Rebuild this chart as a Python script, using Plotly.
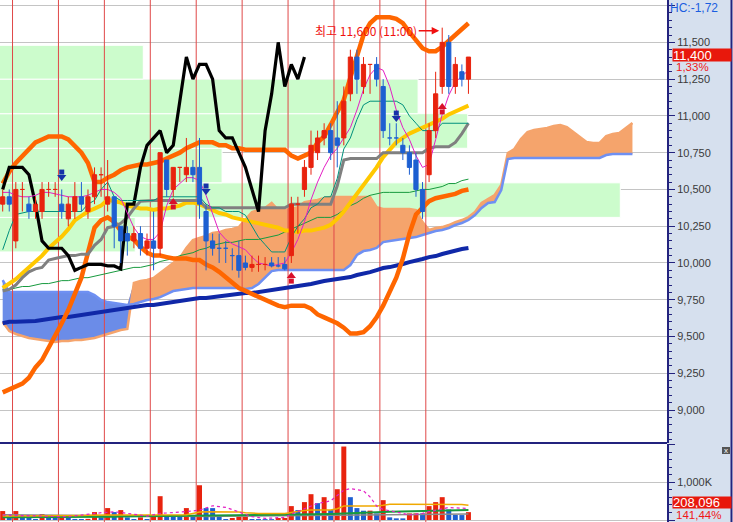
import numpy as np
import plotly.graph_objects as go

# ---------------- data ----------------
opens = [10400, 10450, 10150, 10500, 10400, 10350, 10350, 10500, 10500, 10400,
         10300, 10350, 10450, 10350, 10450, 10600, 10400, 10450, 10250, 10200,
         10150, 10200, 10100, 10150, 10100, 10700, 10500, 10650, 10600, 10650,
         10650, 10350, 10150, 10100, 10100, 10050, 10050, 10000, 9970, 9990,
         9990, 10000, 9980, 9990, 10050, 10400, 10500, 10650, 10750, 10850,
         10900, 10850, 10850, 11150, 11400, 11200, 11350, 11350, 11200, 10850,
         10850, 10800, 10750, 10700, 10500, 10600, 10900, 11200, 11500, 11200,
         11300, 11250]
highs = [10500, 10500, 10550, 10550, 10450, 10450, 10550, 10550, 10550, 10500,
         10450, 10550, 10550, 10500, 10650, 10650, 10700, 10450, 10250, 10250,
         10250, 10250, 10200, 10350, 10750, 10700, 10650, 10650, 10850, 10700,
         10850, 10400, 10200, 10200, 10150, 10100, 10150, 10050, 10050, 10050,
         10040, 10040, 10040, 10040, 10450, 10450, 10700, 10900, 10900, 10950,
         10950, 11100, 11200, 11450, 11450, 11400, 11350, 11400, 11250, 10950,
         10950, 10850, 10800, 10750, 10550, 10950, 11300, 11600, 11550, 11400,
         11350, 11400]
lows = [10350, 10350, 10100, 10350, 10300, 10300, 10300, 10450, 10450, 10300,
        10250, 10300, 10350, 10300, 10400, 10450, 10350, 10100, 10000, 10050,
        10100, 10050, 10050, 9950, 10050, 10450, 10450, 10550, 10550, 10550,
        10300, 9950, 10050, 10000, 10000, 9950, 9900, 9950, 9940, 9940,
        9950, 9970, 9970, 9950, 10000, 10200, 10450, 10600, 10700, 10800,
        10700, 10650, 10800, 11100, 11150, 11150, 11150, 11200, 10850, 10800,
        10800, 10700, 10600, 10450, 10300, 10550, 10850, 11150, 11150, 11150,
        11200, 11150]
closes = [10450, 10400, 10500, 10500, 10350, 10400, 10500, 10500, 10500, 10350,
          10400, 10450, 10400, 10450, 10600, 10600, 10450, 10250, 10150, 10150,
          10200, 10100, 10150, 10100, 10750, 10500, 10650, 10650, 10650, 10600,
          10400, 10150, 10100, 10100, 10100, 10050, 9950, 9970, 9990, 9990,
          9990, 9980, 9980, 9960, 10400, 10400, 10650, 10800, 10850, 10900,
          10750, 10800, 11100, 11400, 11250, 11350, 11350, 11250, 10900, 10850,
          10850, 10750, 10650, 10500, 10350, 10900, 11150, 11500, 11200, 11350,
          11250, 11400]
volumes_k = [237, 70, 237, 105, 70, 26, 158, 70, 65, 72,
             66, 28, 26, 30, 210, 70, 316, 210, 263, 70,
             26, 70, 26, 88, 631, 132, 88, 85, 316, 105,
             921, 316, 315, 88, 26, 53, 90, 92, 26, 25,
             24, 23, 53, 55, 368, 263, 474, 684, 447, 605,
             263, 816, 1947, 605, 316, 246, 248, 175, 526, 70,
             44, 43, 175, 176, 175, 368, 474, 605, 281, 132,
             131, 208.096]

ma5 = [10480, 10480, 10460, 10450, 10450, 10460, 10480, 10480, 10470, 10460,
       10450, 10450, 10450, 10460, 10480, 10500, 10500, 10480, 10440, 10340,
       10240, 10180, 10160, 10160, 10210, 10390, 10500, 10540, 10580, 10580,
       10560, 10460, 10330, 10210, 10160, 10130, 10110, 10090, 10040, 10000,
       9990, 9980, 9990, 10000, 10070, 10160, 10280, 10430, 10550, 10650,
       10730, 10780, 10850, 10920, 11040, 11180, 11280, 11330, 11310, 11200,
       11040, 10920, 10840, 10730, 10650, 10670, 10840, 11010, 11140, 11230,
       11270, 11310]
ma60 = [9820, 9820, 9830, 9840, 9840, 9850, 9860, 9860, 9870, 9880,
        9880, 9890, 9900, 9900, 9910, 9920, 9930, 9940, 9950, 9960,
        9970, 9970, 9980, 9990, 10010, 10020, 10030, 10050, 10060, 10070,
        10090, 10100, 10120, 10130, 10140, 10140, 10150, 10160, 10160, 10160,
        10170, 10180, 10190, 10210, 10230, 10250, 10270, 10290, 10310, 10310,
        10310, 10330, 10360, 10390, 10410, 10440, 10460, 10470, 10480, 10480,
        10480, 10480, 10480, 10490, 10500, 10500, 10510, 10520, 10540, 10540,
        10560, 10570]
ma120 = [9590, 9600, 9600, 9600, 9600, 9605, 9612, 9619, 9626, 9632,
         9632, 9639, 9646, 9653, 9660, 9666, 9673, 9680, 9687, 9694,
         9700, 9707, 9714, 9714, 9721, 9728, 9734, 9741, 9748, 9755,
         9762, 9762, 9768, 9775, 9782, 9782, 9789, 9796, 9796, 9802,
         9809, 9816, 9823, 9830, 9836, 9843, 9850, 9857, 9870, 9877,
         9884, 9891, 9898, 9904, 9918, 9925, 9938, 9952, 9966, 9972,
         9986, 9993, 10006, 10020, 10027, 10040, 10047, 10061, 10074, 10081,
         10095, 10102]
bb_mid = [9830, 9860, 9890, 9930, 9970, 10010, 10050, 10100, 10140, 10180,
          10230, 10290, 10320, 10350, 10370, 10390, 10430, 10420, 10410, 10390,
          10380, 10370, 10370, 10360, 10370, 10370, 10380, 10390, 10410, 10410,
          10400, 10380, 10360, 10340, 10330, 10310, 10300, 10290, 10280, 10270,
          10260, 10250, 10240, 10220, 10220, 10210, 10220, 10220, 10230, 10240,
          10260, 10300, 10350, 10410, 10460, 10520, 10580, 10650, 10720, 10770,
          10820, 10850, 10880, 10900, 10920, 10940, 10960, 10980, 11010, 11030,
          11050, 11070]
bb_upper = [10540, 10620, 10680, 10730, 10780, 10820, 10840, 10860, 10860, 10860,
            10840, 10800, 10750, 10680, 10550, 10550, 10580, 10600, 10630, 10650,
            10660, 10670, 10670, 10680, 10690, 10710, 10730, 10750, 10780, 10800,
            10820, 10820, 10820, 10800, 10800, 10780, 10780, 10770, 10770, 10770,
            10770, 10770, 10770, 10770, 10730, 10710, 10730, 10750, 10820, 10860,
            10940, 11020, 11110, 11260, 11410, 11550, 11630, 11670, 11670, 11670,
            11660, 11630, 11570, 11510, 11460, 11440, 11440, 11470, 11510, 11560,
            11600, 11630]
bb_lower = [9120, 9140, 9160, 9180, 9220, 9290, 9340, 9420, 9500, 9590,
            9680, 9800, 9900, 10070, 10240, 10290, 10310, 10280, 10220, 10180,
            10160, 10110, 10070, 10050, 10050, 10040, 10030, 10030, 10030, 10020,
            10020, 9990, 9970, 9940, 9900, 9860, 9830, 9810, 9790, 9770,
            9750, 9730, 9710, 9700, 9710, 9710, 9710, 9690, 9650, 9630,
            9610, 9590, 9560, 9520, 9520, 9530, 9570, 9630, 9710, 9800,
            9900, 10030, 10200, 10330, 10380, 10420, 10440, 10450, 10460, 10470,
            10490, 10500]
tenkan = [10090, 10220, 10330, 10340, 10350, 10350, 10350, 10350, 10350, 10350,
          10350, 10350, 10350, 10400, 10425, 10500, 10550, 10450, 10425, 10425,
          10425, 10425, 10425, 10425, 10450, 10450, 10450, 10450, 10450, 10450,
          10450, 10400, 10375, 10375, 10350, 10350, 10350, 10325, 10250, 10175,
          10125, 10075, 10075, 10075, 10175, 10250, 10300, 10375, 10400, 10450,
          10450, 10575, 10775, 10850, 10975, 11075, 11100, 11100, 11100, 11100,
          11100, 11075, 11000, 10950, 10900, 10900, 10900, 10950, 10950, 10950,
          10950, 10950]
kijun = [9810, 9820, 9850, 9900, 9940, 9960, 9970, 10020, 10030, 10040,
         10050, 10050, 10060, 10060, 10120, 10160, 10240, 10250, 10270, 10310,
         10370, 10420, 10425, 10425, 10425, 10425, 10425, 10425, 10425, 10425,
         10425, 10375, 10375, 10375, 10375, 10375, 10375, 10375, 10375, 10375,
         10375, 10375, 10375, 10375, 10400, 10400, 10400, 10400, 10400, 10400,
         10400, 10525, 10700, 10710, 10710, 10710, 10710, 10710, 10750, 10750,
         10750, 10750, 10750, 10750, 10750, 10780, 10790, 10790, 10790, 10820,
         10880, 10950]
span_a = [9598, 9537, 9517, 9503, 9490, 9483, 9476, 9469, 9462, 9469,
          9469, 9476, 9476, 9483, 9490, 9503, 9517, 9530, 9544, 9551,
          9864, 9877, 9884, 9898, 9932, 9972, 10006, 10034, 10102, 10156,
          10170, 10183, 10204, 10210, 10224, 10231, 10244, 10292, 10346, 10360,
          10374, 10408, 10360, 10360, 10367, 10380, 10414, 10421, 10428, 10442,
          10448, 10448, 10448, 10448, 10448, 10448, 10448, 10380, 10367, 10367,
          10367, 10367, 10367, 10360, 10278, 10224, 10238, 10244, 10258, 10278,
          10292, 10312, 10346, 10408, 10435, 10462, 10530, 10748, 10775, 10843,
          10890, 10904, 10911, 10918, 10931, 10938, 10924, 10890, 10856, 10822,
          10816, 10816, 10863, 10877, 10884, 10918, 10952]
span_b = [9884, 9802, 9802, 9802, 9802, 9802, 9802, 9802, 9802, 9802,
          9802, 9802, 9802, 9802, 9782, 9748, 9734, 9728, 9721, 9714,
          9721, 9734, 9748, 9755, 9768, 9789, 9809, 9816, 9823, 9830,
          9830, 9830, 9830, 9830, 9830, 9830, 9830, 9823, 9830, 9857,
          9904, 9945, 9952, 9952, 9952, 9952, 9952, 9952, 9952, 9952,
          9952, 9952, 9952, 9986, 10054, 10081, 10088, 10102, 10142, 10149,
          10156, 10163, 10170, 10176, 10190, 10204, 10217, 10224, 10238, 10258,
          10272, 10292, 10326, 10374, 10408, 10414, 10496, 10707, 10714, 10714,
          10714, 10714, 10714, 10714, 10714, 10714, 10714, 10714, 10714, 10714,
          10714, 10714, 10734, 10741, 10741, 10741, 10741]
chikou_shift = 25

vol_ma5_k = [132, 125, 120, 115, 110, 105, 100, 95, 92, 90,
             88, 110, 135, 160, 180, 193, 205, 219, 200, 180,
             158, 130, 105, 140, 175, 185, 195, 208, 219, 240,
             263, 320, 377, 355, 333, 275, 219, 150, 88, 65,
             44, 52, 61, 70, 158, 230, 307, 370, 438, 470,
             509, 650, 790, 833, 800, 772, 614, 368, 281, 250,
             219, 175, 132, 150, 175, 220, 263, 300, 333, 320,
             310, 307]
vol_ma20_k = [105, 105, 105, 105, 105, 105, 105, 105, 105, 105,
              110, 115, 120, 125, 130, 130, 130, 130, 130, 130,
              130, 130, 130, 130, 132, 135, 135, 135, 140, 175,
              210, 220, 220, 220, 220, 220, 210, 190, 175, 175,
              175, 175, 175, 175, 200, 230, 250, 263, 263, 263,
              263, 300, 368, 368, 368, 368, 368, 368, 390, 420,
              420, 420, 420, 420, 420, 420, 420, 420, 420, 420,
              410, 390]
vol_ma60_k = [70, 70, 70, 70, 70, 72, 72, 72, 74, 74,
              75, 76, 78, 80, 82, 84, 86, 88, 90, 92,
              94, 96, 98, 100, 103, 105, 106, 107, 108, 110,
              112, 114, 116, 118, 120, 121, 122, 123, 124, 125,
              126, 127, 128, 130, 134, 138, 142, 146, 150, 155,
              160, 165, 175, 185, 195, 200, 205, 210, 215, 220,
              224, 228, 232, 236, 240, 244, 248, 252, 255, 258,
              260, 263]
vol_ma120_k = [140, 138, 136, 134, 132, 130, 128, 126, 124, 122,
               120, 118, 116, 114, 112, 110, 108, 106, 104, 102,
               100, 98, 96, 94, 92, 92, 92, 92, 92, 92,
               92, 94, 96, 98, 100, 102, 104, 106, 108, 110,
               112, 114, 116, 118, 120, 122, 124, 126, 128, 130,
               132, 134, 136, 138, 140, 142, 144, 146, 148, 150,
               152, 153, 154, 155, 156, 157, 158, 158, 158, 158,
               158, 158]

session_breaks = [1.5, 8.5, 15.5, 22.5, 29.5, 36.5, 43.5, 50.5, 57.5, 64.5]
vp_edges = [10075, 10310, 10545, 10780, 11015, 11250, 11480]
vp_volume = [21.8, 100, 35.8, 75.4, 67.4, 23.1]
sell_idx = [9, 31, 60]
sell_level = [10557, 10462, 10958]
buy_idx = [26, 44, 67]
buy_level = [10442, 9938, 11088]

price_ticks = [9000, 9250, 9500, 9750, 10000, 10250, 10500, 10750, 11000, 11250, 11500, 11750]
price_tick_labels = ['9,000', '9,250', '9,500', '9,750', '10,000', '10,250', '10,500',
                     '10,750', '11,000', '11,250', '11,500', '']
vol_ticks = [0, 1000, 2000]
vol_tick_labels = ['', '1,000K', '']

# ---------------- styling / geometry ----------------
W, H = 733, 522
PLOT_W = 667
PRICE_BOTTOM_PX = 443
RED = '#e8230e'
BLUE = '#1d5fd1'
NAVY = '#23237e'
n = len(closes)
idx = np.arange(n)
px_per_bar = 6.56
x_lo = -0.41
x_hi = x_lo + PLOT_W / px_per_bar
y_lo, y_hi = 8776, 11788
ppx = (y_hi - y_lo) / PRICE_BOTTOM_PX
v_lo, v_hi = -53, 2014
body_hw = 0.32

fig = go.Figure()

# volume-by-price bands
vp_reach = 0.93 * (x_hi - x_lo)
for k, v in enumerate(vp_volume):
    lo, hi = vp_edges[k], vp_edges[k + 1]
    xr = x_lo + v / 100 * vp_reach
    fig.add_trace(go.Scatter(x=[x_lo - 2, xr, xr, x_lo - 2, x_lo - 2], y=[lo, lo, hi, hi, lo],
                             mode='lines', fill='toself', fillcolor='#ccfccc',
                             line=dict(color='white', width=1), hoverinfo='skip'))

# ichimoku cloud
a = np.array(span_a, dtype=float)
b = np.array(span_b, dtype=float)
xc = np.arange(len(a))
top = np.maximum(a, b)
CL_OR = '#f5a46c'
CL_BL = '#6b8ce8'
fig.add_trace(go.Scatter(x=xc, y=b, mode='lines', line=dict(width=0), hoverinfo='skip'))
fig.add_trace(go.Scatter(x=xc, y=top, mode='lines', line=dict(width=0), fill='tonexty',
                         fillcolor=CL_OR, hoverinfo='skip'))
fig.add_trace(go.Scatter(x=xc, y=a, mode='lines', line=dict(width=0), hoverinfo='skip'))
fig.add_trace(go.Scatter(x=xc, y=top, mode='lines', line=dict(width=0), fill='tonexty',
                         fillcolor=CL_BL, hoverinfo='skip'))
fig.add_trace(go.Scatter(x=xc, y=a, mode='lines', line=dict(color=CL_OR, width=2.5), hoverinfo='skip'))
fig.add_trace(go.Scatter(x=xc, y=b, mode='lines', line=dict(color='#6f90f2', width=2.5), hoverinfo='skip'))

# session separators
sx, sy, svy = [], [], []
for s in session_breaks:
    sx += [s, s, None]
    sy += [y_lo, y_hi, None]
    svy += [v_lo, v_hi, None]
fig.add_trace(go.Scatter(x=sx, y=sy, mode='lines', line=dict(color='#e04848', width=1), hoverinfo='skip'))
fig.add_trace(go.Scatter(x=sx, y=svy, mode='lines', line=dict(color='#e04848', width=1),
                         xaxis='x2', yaxis='y2', hoverinfo='skip'))


def add_line(y, color, width, x=idx, dash=None):
    fig.add_trace(go.Scatter(x=x, y=y, mode='lines', hoverinfo='skip',
                             line=dict(color=color, width=width, dash=dash)))


add_line(ma120, '#1028a8', 4)
add_line(ma60, '#179a3e', 1)
add_line(bb_upper, '#ff6600', 4.5)
add_line(bb_lower, '#ff6600', 4.5)
add_line(bb_mid, '#ffc800', 4)
add_line(kijun, '#808080', 3)
add_line(closes[chikou_shift:], '#000000', 3.2, x=idx[:n - chikou_shift])
add_line(tenkan, '#00907c', 1)
add_line(ma5, '#e41ec4', 1)

# candles (drawn as scatter shapes so they stay above the overlays)
up = []
prev_dir = True
for i in range(n):
    o, c = opens[i], closes[i]
    if c > o:
        d = True
    elif c < o:
        d = False
    elif i > 0 and c != closes[i - 1]:
        d = c > closes[i - 1]
    else:
        d = prev_dir
    up.append(d)
    prev_dir = d

for flag, color in [(True, RED), (False, BLUE)]:
    wx, wy, bx, by = [], [], [], []
    for i in range(n):
        if up[i] != flag:
            continue
        wx += [i, i, None]
        wy += [lows[i], highs[i], None]
        lo, hi = min(opens[i], closes[i]), max(opens[i], closes[i])
        bx += [i - body_hw, i + body_hw, i + body_hw, i - body_hw, i - body_hw, None]
        by += [lo, lo, hi, hi, lo, None]
    fig.add_trace(go.Scatter(x=wx, y=wy, mode='lines', line=dict(color=color, width=1), hoverinfo='skip'))
    fig.add_trace(go.Scatter(x=bx, y=by, mode='lines', fill='toself', fillcolor=color,
                             line=dict(color=color, width=1), hoverinfo='skip'))

# signal arrows
fig.add_trace(go.Scatter(x=sell_idx, y=[v + 4 * ppx for v in sell_level], mode='markers',
                         marker=dict(symbol='triangle-down', size=8, color='#1632a8', line=dict(width=0))))
fig.add_trace(go.Scatter(x=sell_idx, y=[v + 9 * ppx for v in sell_level], mode='markers',
                         marker=dict(symbol='square', size=5, color='#1632a8', line=dict(width=0))))
fig.add_trace(go.Scatter(x=buy_idx, y=[v - 4 * ppx for v in buy_level], mode='markers',
                         marker=dict(symbol='triangle-up', size=8, color='#d8102a', line=dict(width=0))))
fig.add_trace(go.Scatter(x=buy_idx, y=[v - 9 * ppx for v in buy_level], mode='markers',
                         marker=dict(symbol='square', size=5, color='#d8102a', line=dict(width=0))))

# volume
vol = np.array(volumes_k, dtype=float)
vcol = [RED if (i == 0 or vol[i] >= vol[i - 1]) else BLUE for i in range(n)]
fig.add_trace(go.Bar(x=idx, y=vol, width=0.76, marker=dict(color=vcol, line=dict(width=0)),
                     xaxis='x2', yaxis='y2', hoverinfo='skip'))
for series, color, width, dash in [(vol_ma120_k, '#8a8a8a', 1.5, None),
                                   (vol_ma60_k, '#179a3e', 2, None),
                                   (vol_ma20_k, '#f0a800', 1.5, None),
                                   (vol_ma5_k, '#e41ec4', 1.2, 'dot')]:
    fig.add_trace(go.Scatter(x=idx, y=series, mode='lines', xaxis='x2', yaxis='y2', hoverinfo='skip',
                             line=dict(color=color, width=width, dash=dash)))

# ---------------- layout ----------------
price_dom = [(H - PRICE_BOTTOM_PX) / H, 1]
vol_dom = [0, (H - PRICE_BOTTOM_PX - 1) / H]
tickfont = dict(family='Liberation Sans, Arial, sans-serif', size=11, color='#3a3a3a')
common_y = dict(side='right', tickmode='array', showgrid=True, gridcolor='#c4c4c4', gridwidth=1,
                zeroline=False, ticks='outside', ticklen=6, tickwidth=1, tickcolor=NAVY,
                showline=True, linecolor=NAVY, linewidth=2, tickfont=tickfont, fixedrange=True)

fig.update_layout(
    width=W, height=H, margin=dict(l=0, r=0, t=0, b=0),
    paper_bgcolor='white', plot_bgcolor='white', showlegend=False,
    xaxis=dict(domain=[0, PLOT_W / W], range=[x_lo, x_hi], showgrid=False, zeroline=False,
               showticklabels=False, ticks='', anchor='y', fixedrange=True),
    xaxis2=dict(domain=[0, PLOT_W / W], range=[x_lo, x_hi], matches='x', showgrid=False,
                zeroline=False, showticklabels=False, ticks='', anchor='y2'),
    yaxis=dict(domain=price_dom, range=[y_lo, y_hi], tickvals=price_ticks, ticktext=price_tick_labels,
               minor=dict(tick0=0, dtick=50, ticks='outside', ticklen=3, tickcolor=NAVY, showgrid=False),
               anchor='x', **common_y),
    yaxis2=dict(domain=vol_dom, range=[v_lo, v_hi], tickvals=vol_ticks, ticktext=vol_tick_labels,
                minor=dict(tick0=0, dtick=200, ticks='outside', ticklen=3, tickcolor=NAVY, showgrid=False),
                anchor='x2', **common_y),
)

shapes = [
    dict(type='rect', xref='paper', yref='paper', x0=PLOT_W / W, x1=731 / W, y0=0, y1=1,
         fillcolor='#d6e0ee', line=dict(width=0), layer='below'),
    dict(type='line', xref='paper', yref='paper', x0=731.5 / W, x1=731.5 / W, y0=0, y1=1,
         line=dict(color=NAVY, width=2)),
    dict(type='line', xref='paper', yref='paper', x0=0, x1=PLOT_W / W,
         y0=(H - PRICE_BOTTOM_PX) / H, y1=(H - PRICE_BOTTOM_PX) / H, line=dict(color=NAVY, width=2)),
    dict(type='rect', xref='paper', yref='paper', x0=722 / W, x1=730 / W, y0=(H - 454) / H,
         y1=(H - 447) / H, fillcolor='#555555', line=dict(width=0)),
]
fig.update_layout(shapes=shapes)

hi_i = int(np.argmax(highs))
last_close = closes[-1]
prev_close = closes[-2]
chg = (last_close - prev_close) / prev_close * 100
kfont = 'Noto Sans CJK KR, sans-serif'
annotations = [
    dict(x=hi_i, y=max(highs), xref='x', yref='y', text='최고 {:,} (11:00)'.format(max(highs)),
         showarrow=True, arrowhead=2, arrowsize=1, arrowwidth=1.5, arrowcolor='#f01010',
         ax=-76, ay=0, yshift=-3, standoff=3, font=dict(family=kfont, size=12, color='#f01010')),
    dict(x=672 / W, y=last_close, xref='paper', yref='y', xanchor='left', yanchor='middle', yshift=2,
         text='{:,}'.format(last_close), showarrow=False, bgcolor='#e8180c', width=58, height=12,
         align='left', borderpad=0, font=dict(family='Liberation Sans, Arial', size=13, color='white')),
    dict(x=674 / W, y=last_close, xref='paper', yref='y', xanchor='left', yanchor='middle', yshift=-10,
         text='{:.2f}%'.format(chg).replace('.', ','), showarrow=False,
         font=dict(family='Liberation Sans, Arial', size=11.5, color='#f01818')),
    dict(x=668 / W, y=1 - 7.5 / H, xref='paper', yref='paper', xanchor='left', yanchor='middle',
         text='HC:-1,72', showarrow=False, font=dict(family='Liberation Sans, Arial', size=12, color='#1a5ee0')),
    dict(x=672 / W, y=(H - 502) / H, xref='paper', yref='paper', xanchor='left', yanchor='middle',
         text='{:,.0f}'.format(volumes_k[-1] * 1000), showarrow=False, bgcolor='#e8180c', width=58, height=11,
         align='left', borderpad=0, font=dict(family='Liberation Sans, Arial', size=13, color='white')),
    dict(x=674 / W, y=(H - 515) / H, xref='paper', yref='paper', xanchor='left', yanchor='middle',
         text='141,44%', showarrow=False, font=dict(family='Liberation Sans, Arial', size=11.5, color='#f01818')),
    dict(x=726 / W, y=(H - 450.5) / H, xref='paper', yref='paper', xanchor='center', yanchor='middle',
         text='x', showarrow=False, font=dict(family='Liberation Sans, Arial', size=8, color='white')),
]
fig.update_layout(annotations=annotations)

fig.write_html("out.html", config={'displayModeBar': False, 'staticPlot': True},
               post_script="document.body.style.margin='0px';document.body.style.padding='0px';"
                           "document.body.style.overflow='hidden';")
